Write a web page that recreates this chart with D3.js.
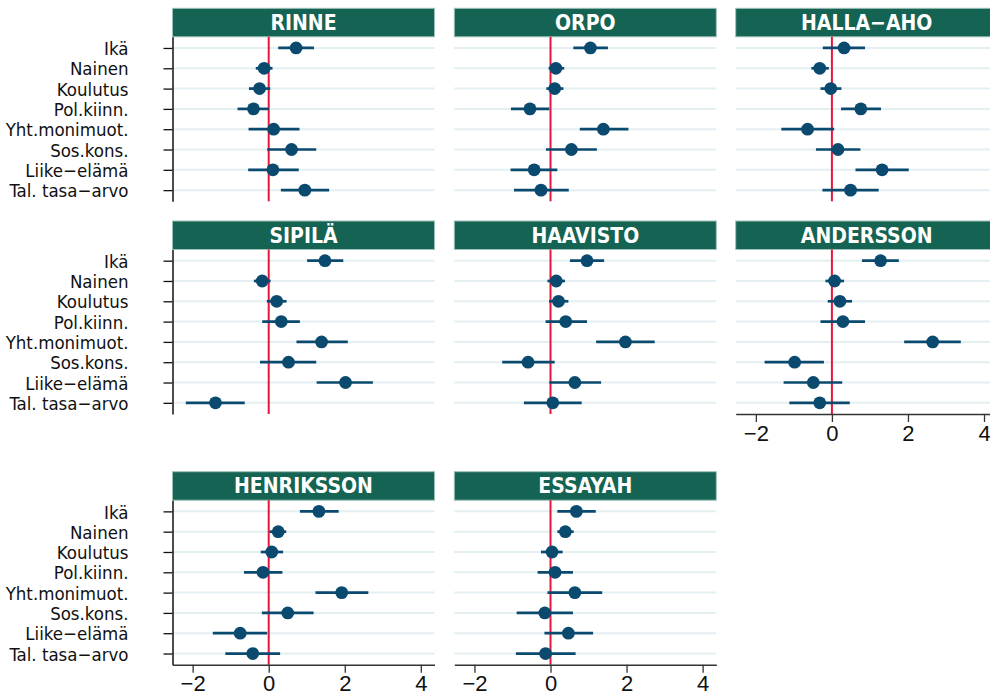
<!DOCTYPE html>
<html>
<head>
<meta charset="utf-8">
<title>Coefficient plot by party leader</title>
<script src="https://cdn.jsdelivr.net/npm/d3@7/dist/d3.min.js"></script>
<style>
body {
  margin: 0;
  background: #ffffff;
}
.ylab {
  font-family: "DejaVu Sans Condensed", "DejaVu Sans", sans-serif;
  font-stretch: condensed;
  font-size: 18.5px;
  fill: #111;
}
.head {
  font-family: "Liberation Sans Narrow", "DejaVu Sans Condensed", sans-serif;
  font-weight: bold;
  font-size: 21px;
  fill: #ffffff;
}
.xaxis text {
  font-family: "Liberation Sans", Arial, sans-serif;
  font-size: 22px;
  fill: #111;
}
</style>
</head>
<body>
<svg id="chart" width="990" height="697"></svg>
<script>

// variables (rows, top to bottom)
var categories = ['Ikä', 'Nainen', 'Koulutus', 'Pol.kiinn.', 'Yht.monimuot.', 'Sos.kons.', 'Liike\u2212elämä', 'Tal. tasa\u2212arvo'];
var leaders = ['RINNE', 'ORPO', 'HALLA\u2212AHO', 'SIPILÄ', 'HAAVISTO', 'ANDERSSON', 'HENRIKSSON', 'ESSAYAH'];
var xTicks = [-2, 0, 2, 4];

// point estimates and 95% intervals
var rinneEst = [0.72, -0.12, -0.24, -0.40, 0.13, 0.60, 0.11, 0.95];
var rinneLo  = [0.25, -0.34, -0.52, -0.82, -0.53, -0.04, -0.54, 0.32];
var rinneHi  = [1.19, 0.10, 0.04, 0.00, 0.81, 1.25, 0.79, 1.59];

var orpoEst = [1.05, 0.14, 0.11, -0.54, 1.39, 0.55, -0.43, -0.25];
var orpoLo  = [0.60, -0.05, -0.11, -1.04, 0.77, -0.12, -1.05, -0.96];
var orpoHi  = [1.51, 0.36, 0.34, -0.03, 2.05, 1.22, 0.18, 0.48];

var hallaEst = [0.32, -0.32, -0.03, 0.76, -0.64, 0.16, 1.32, 0.49];
var hallaLo  = [-0.24, -0.54, -0.30, 0.24, -1.33, -0.42, 0.62, -0.25];
var hallaHi  = [0.87, -0.08, 0.25, 1.29, 0.06, 0.75, 2.02, 1.23];

var sipilaEst = [1.48, -0.17, 0.21, 0.33, 1.39, 0.52, 2.02, -1.40];
var sipilaLo  = [1.01, -0.39, -0.05, -0.17, 0.73, -0.23, 1.26, -2.18];
var sipilaHi  = [1.96, 0.05, 0.47, 0.82, 2.08, 1.25, 2.74, -0.63];

var haavistoEst = [0.96, 0.15, 0.21, 0.40, 1.97, -0.59, 0.64, 0.06];
var haavistoLo  = [0.51, -0.08, -0.04, -0.13, 1.20, -1.27, -0.03, -0.70];
var haavistoHi  = [1.41, 0.38, 0.47, 0.96, 2.74, 0.11, 1.33, 0.82];

var anderssonEst = [1.28, 0.07, 0.21, 0.29, 2.65, -0.98, -0.49, -0.32];
var anderssonLo  = [0.79, -0.17, -0.11, -0.30, 1.90, -1.77, -1.27, -1.12];
var anderssonHi  = [1.76, 0.32, 0.53, 0.87, 3.39, -0.21, 0.27, 0.47];

var henrikssonEst = [1.32, 0.25, 0.08, -0.15, 1.92, 0.50, -0.75, -0.42];
var henrikssonLo  = [0.82, 0.02, -0.21, -0.65, 1.23, -0.18, -1.47, -1.14];
var henrikssonHi  = [1.84, 0.46, 0.38, 0.36, 2.62, 1.18, -0.04, 0.30];

var essayahEst = [0.68, 0.39, 0.04, 0.12, 0.64, -0.15, 0.47, -0.13];
var essayahLo  = [0.18, 0.18, -0.25, -0.34, -0.08, -0.89, -0.16, -0.91];
var essayahHi  = [1.19, 0.61, 0.32, 0.59, 1.36, 0.59, 1.12, 0.66];

var panels = [
  {name: leaders[0], est: rinneEst, lo: rinneLo, hi: rinneHi, col: 0, row: 0},
  {name: leaders[1], est: orpoEst, lo: orpoLo, hi: orpoHi, col: 1, row: 0},
  {name: leaders[2], est: hallaEst, lo: hallaLo, hi: hallaHi, col: 2, row: 0},
  {name: leaders[3], est: sipilaEst, lo: sipilaLo, hi: sipilaHi, col: 0, row: 1},
  {name: leaders[4], est: haavistoEst, lo: haavistoLo, hi: haavistoHi, col: 1, row: 1},
  {name: leaders[5], est: anderssonEst, lo: anderssonLo, hi: anderssonHi, col: 2, row: 1, xaxis: true},
  {name: leaders[6], est: henrikssonEst, lo: henrikssonLo, hi: henrikssonHi, col: 0, row: 2, xaxis: true},
  {name: leaders[7], est: essayahEst, lo: essayahLo, hi: essayahHi, col: 1, row: 2, xaxis: true}
];

// layout
var colX = [172.5, 454.3, 735.7];
var rowY = [8.3, 221, 471.7];
var panelW = 262;
var headH = 28.5;
var plotH = 164.5;

var svg = d3.select('#chart');

panels.forEach(function(p) {
  var g = svg.append('g')
    .attr('transform', 'translate(' + colX[p.col] + ',' + rowY[p.row] + ')');

  var x = d3.scaleLinear().domain([-2.53, 4.36]).range([0, panelW]);
  var y = d3.scalePoint().domain(categories).range([headH, headH + plotH]).padding(0.55);

  // header strip
  g.append('rect')
    .attr('x', 0).attr('y', 0)
    .attr('width', panelW).attr('height', headH)
    .style('fill', '#156352')
    .style('stroke', '#9cc1b9')
    .style('stroke-width', 1);
  g.append('text')
    .attr('class', 'head')
    .attr('x', panelW / 2)
    .attr('y', headH / 2 + 7.5)
    .attr('text-anchor', 'middle')
    .text(p.name);

  // grid lines
  g.selectAll('.grid').data(categories).enter().append('line')
    .attr('x1', 0).attr('x2', panelW)
    .attr('y1', function(d) { return y(d); })
    .attr('y2', function(d) { return y(d); })
    .style('stroke', '#e4eff2')
    .style('stroke-width', 2);

  // zero line
  g.append('line')
    .attr('x1', x(0)).attr('x2', x(0))
    .attr('y1', headH).attr('y2', headH + plotH)
    .style('stroke', '#e8163c')
    .style('stroke-width', 2);

  // intervals
  var rows = categories.map(function(c, i) {
    return {cat: c, est: p.est[i], lo: p.lo[i], hi: p.hi[i]};
  });
  g.selectAll('.ci').data(rows).enter().append('line')
    .attr('x1', function(d) { return x(d.lo); })
    .attr('x2', function(d) { return x(d.hi); })
    .attr('y1', function(d) { return y(d.cat); })
    .attr('y2', function(d) { return y(d.cat); })
    .style('stroke', '#0b4a6f')
    .style('stroke-width', 2.7);
  g.selectAll('.pt').data(rows).enter().append('circle')
    .attr('cx', function(d) { return x(d.est); })
    .attr('cy', function(d) { return y(d.cat); })
    .attr('r', 6.4)
    .style('fill', '#0b4a6f');

  // y axis on first column
  if (p.col === 0) {
    var ya = g.append('g').call(d3.axisLeft(y).tickSize(9).tickPadding(35).tickSizeOuter(0));
    ya.select('.domain').style('stroke', '#111').style('stroke-width', 1.5);
    ya.selectAll('.tick line').style('stroke', '#111').style('stroke-width', 1.3);
    ya.selectAll('.tick text').attr('class', 'ylab').attr('dy', '0.36em');
  }

  // x axis
  if (p.xaxis) {
    var xa = g.append('g')
      .attr('class', 'xaxis')
      .attr('transform', 'translate(0,' + (headH + plotH) + ')')
      .call(d3.axisBottom(x).tickValues(xTicks).tickFormat(d3.format('d'))
        .tickSize(8).tickPadding(3).tickSizeOuter(0));
    xa.select('.domain').style('stroke', '#333').style('stroke-width', 1.5);
    xa.selectAll('.tick line').style('stroke', '#333').style('stroke-width', 1.3);
  }
});

</script>
</body>
</html>
